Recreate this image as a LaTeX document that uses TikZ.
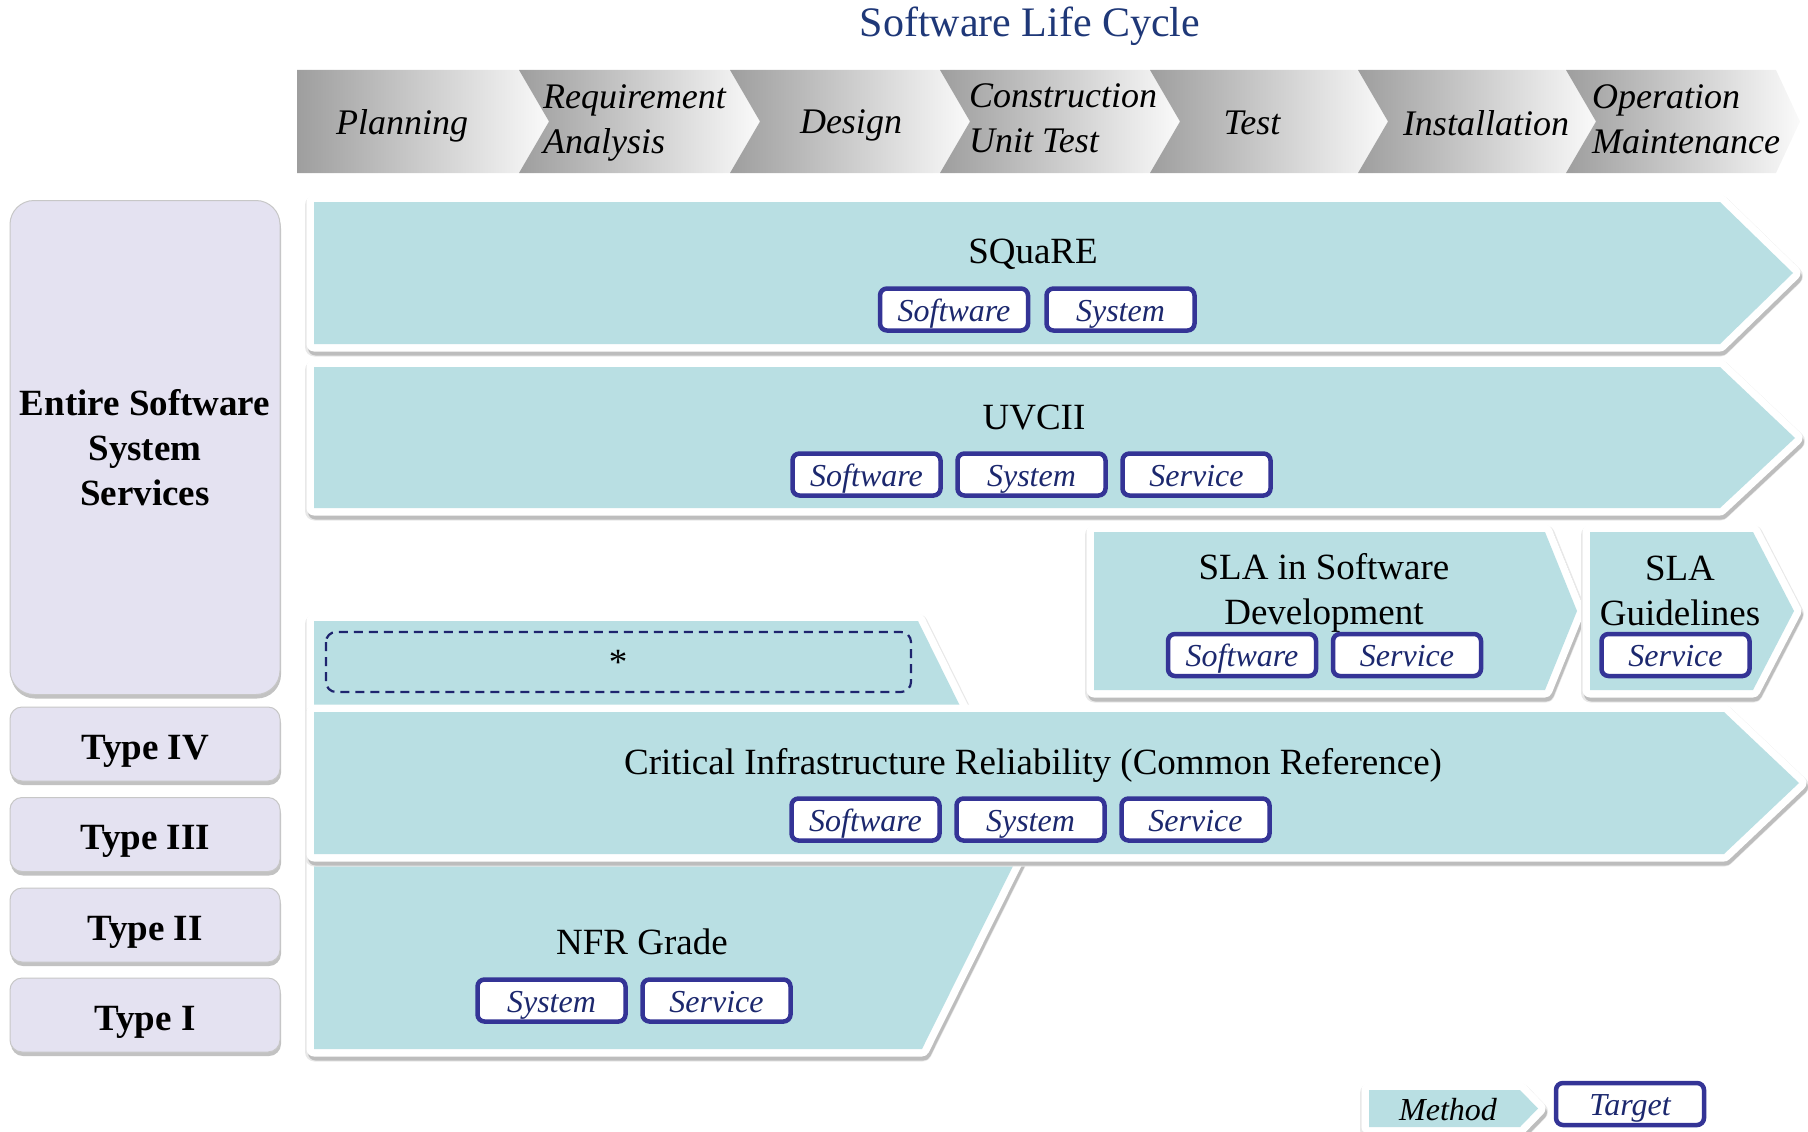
\documentclass[tikz,border=0pt]{standalone}
\usepackage{fontspec}
\setmainfont{Liberation Serif}
\usetikzlibrary{shadows}
\definecolor{titleblue}{RGB}{31,56,120}
\definecolor{mcyan}{RGB}{185,223,227}
\definecolor{tborder}{RGB}{52,52,150}
\definecolor{ttext}{RGB}{28,40,110}
\definecolor{lav}{RGB}{228,226,241}
\definecolor{dashnavy}{RGB}{30,36,110}
\newcommand\methshape[1]{%
  \filldraw[black!9, shift={(0.5,3)}, line width=19pt, line join=round] #1;
  \filldraw[black!26, shift={(1.5,4)}, line width=15pt, line join=round] #1;
  \filldraw[white, line width=15pt, line join=round] #1;
  \fill[mcyan] #1;
}
\tikzset{
  hdr/.style={left color=black!38, right color=black!2, draw=none},
  htext/.style={font=\fontsize{36}{45}\selectfont\itshape, align=left, inner sep=0pt},
  mtext/.style={font=\fontsize{37}{45}\selectfont, align=center, inner sep=0pt},
  tbox/.style={draw=tborder, line width=4.5pt, rounded corners=7pt, fill=white,
    minimum width=148, minimum height=42, inner sep=0pt, text=ttext,
    text height=23pt, text depth=0pt,
    font=\fontsize{32}{36}\selectfont\itshape},
  lavbox/.style={fill=lav, draw=black!22, line width=1pt, minimum width=270,
    inner sep=0pt, align=center, font=\fontsize{37}{45}\selectfont\bfseries,
    drop shadow={shadow xshift=1pt, shadow yshift=-4pt, fill=black!40, opacity=.6}},
  typebox/.style={lavbox, rounded corners=12pt, minimum height=74, text height=30pt, text depth=0pt}
}
\begin{document}
\begin{tikzpicture}[x=1pt,y=-1pt]
\useasboundingbox (0,0) rectangle (1808,1132);

% title
\node[font=\fontsize{42}{48}\selectfont, text=titleblue, anchor=base] (title) at (1030,37) {Software Life Cycle};

% header chevrons
\path[hdr] (297,70) -- (519,70) -- (549,121.5) -- (519,173) -- (297,173) -- cycle;
\path[hdr] (519,70) -- (730,70) -- (760,121.5) -- (730,173) -- (519,173) -- (549,121.5) -- cycle;
\path[hdr] (730,70) -- (940,70) -- (970,121.5) -- (940,173) -- (730,173) -- (760,121.5) -- cycle;
\path[hdr] (940,70) -- (1150,70) -- (1180,121.5) -- (1150,173) -- (940,173) -- (970,121.5) -- cycle;
\path[hdr] (1150,70) -- (1358,70) -- (1388,121.5) -- (1358,173) -- (1150,173) -- (1180,121.5) -- cycle;
\path[hdr] (1358,70) -- (1566,70) -- (1596,121.5) -- (1566,173) -- (1358,173) -- (1388,121.5) -- cycle;
\path[hdr] (1566,70) -- (1776,70) -- (1800,121.5) -- (1776,173) -- (1566,173) -- (1596,121.5) -- cycle;

\node[htext] (planning) at (402,125.5) {Planning};
\node[htext, anchor=west] (req) at (543,122.5) {Requirement\\Analysis};
\node[htext] (design) at (851,125.5) {Design};
\node[htext, anchor=west] (constr) at (969,118.5) {Construction\\Unit Test};
\node[htext] (test) at (1252,123) {Test};
\node[htext] (install) at (1486,123) {Installation};
\node[htext, anchor=west] (oper) at (1592,119) {Operation\\Maintenance};

% left boxes
\node[lavbox, rounded corners=24pt, minimum height=494] (entire) at (145,447.5) {Entire Software\\System\\Services};
\node[typebox] (t4) at (145,744) {Type IV};
\node[typebox] (t3) at (145,834.5) {Type III};
\node[typebox] (t2) at (145,925) {Type II};
\node[typebox] (t1) at (145,1015) {Type I};

% method chevrons
\methshape{(314,202) -- (1720,202) -- (1793,273) -- (1720,344) -- (314,344) -- cycle}
\methshape{(314,367) -- (1720,367) -- (1795,438) -- (1720,508) -- (314,508) -- cycle}
\methshape{(1094,532) -- (1545,532) -- (1577,611) -- (1545,690) -- (1094,690) -- cycle}
\methshape{(1590,532) -- (1753,532) -- (1794,611) -- (1753,690) -- (1590,690) -- cycle}
\methshape{(314,621) -- (918,621) -- (963,712) -- (314,712) -- cycle}
\methshape{(314,850) -- (1021,850) -- (922,1049) -- (314,1049) -- cycle}
\methshape{(314,712) -- (1724,712) -- (1799,783) -- (1724,854) -- (314,854) -- cycle}
\methshape{(1369,1090) -- (1520,1090) -- (1538,1108.5) -- (1520,1127) -- (1369,1127) -- cycle}

% SQuaRE
\node[mtext] (square) at (1033,254.5) {SQuaRE};
\node[tbox] (sq1) at (954,309.5) {Software};
\node[tbox] (sq2) at (1120.5,309.5) {System};

% UVCII
\node[mtext] (uvcii) at (1034,417.5) {UVCII};
\node[tbox] (uv1) at (866.5,474.5) {Software};
\node[tbox] (uv2) at (1031.5,474.5) {System};
\node[tbox] (uv3) at (1196.5,474.5) {Service};

% SLA in Software Development
\node[mtext] (sla) at (1324,593) {SLA in Software\\Development};
\node[tbox] (sla1) at (1242,655) {Software};
\node[tbox] (sla2) at (1407,655) {Service};

% SLA Guidelines
\node[mtext] (slag) at (1680,590.5) {SLA\\Guidelines};
\node[tbox] (slag1) at (1675.5,655) {Service};

% star
\draw[dashnavy, line width=2.2pt, dash pattern=on 9pt off 6pt, rounded corners=10pt] (326,632) rectangle (911,692);
\node[font=\fontsize{37}{40}\selectfont] (star) at (618,662) {*};

% Critical
\node[mtext] (cir) at (1033,765.5) {Critical Infrastructure Reliability (Common Reference)};
\node[tbox] (cir1) at (865.5,819.5) {Software};
\node[tbox] (cir2) at (1030.5,819.5) {System};
\node[tbox] (cir3) at (1195.5,819.5) {Service};

% NFR
\node[mtext] (nfr) at (642,942) {NFR Grade};
\node[tbox] (nfr1) at (551.5,1000.5) {System};
\node[tbox] (nfr2) at (716.5,1000.5) {Service};

% legend
\node[font=\fontsize{32}{36}\selectfont\itshape, inner sep=0pt] (method) at (1448,1110) {Method};
\node[tbox] (target) at (1630,1104) {Target};
\end{tikzpicture}
\end{document}
